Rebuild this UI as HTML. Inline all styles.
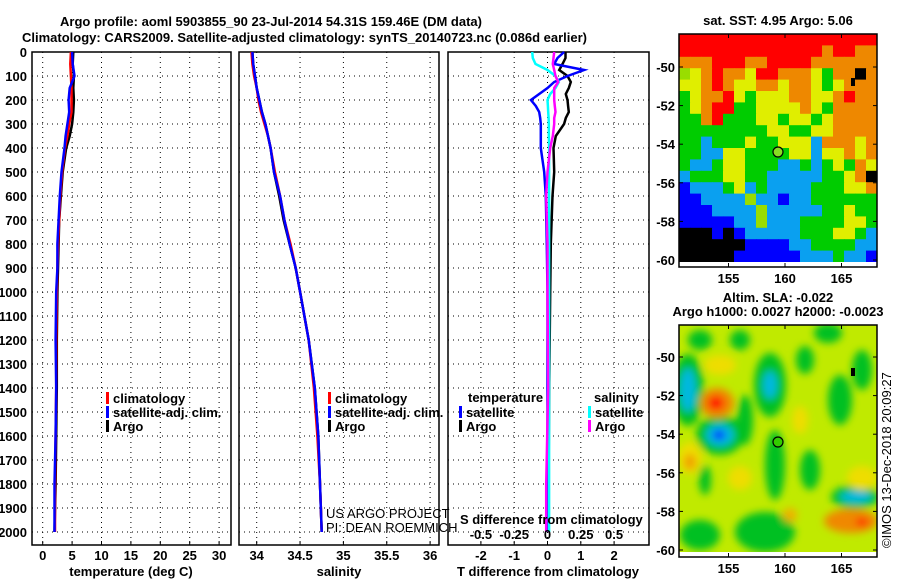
<!DOCTYPE html>
<html><head><meta charset="utf-8"><style>
html,body{margin:0;padding:0;background:#fff;}
svg{display:block;font-family:"Liberation Sans",sans-serif;}
.b{font-weight:bold;font-size:13px;}
</style></head><body>
<svg id="chart" width="900" height="580" viewBox="0 0 900 580" xmlns="http://www.w3.org/2000/svg">
<defs><filter id="blur" x="-20%" y="-20%" width="140%" height="140%"><feGaussianBlur stdDeviation="4"/></filter>
<clipPath id="clipTop"><rect x="679" y="34" width="198" height="228"/></clipPath>
<clipPath id="clipBot"><rect x="679" y="325" width="198" height="227"/></clipPath></defs>
<text class="b" x="60" y="26" font-size="14">Argo profile: aoml 5903855_90 23-Jul-2014 54.31S 159.46E (DM data)</text>
<text class="b" x="22" y="42" font-size="14">Climatology: CARS2009. Satellite-adjusted climatology: synTS_20140723.nc (0.086d earlier)</text>
<g id="g1"></g>
<g id="g2"></g>
<g id="g3"></g>
<g id="m1"></g>
<g id="m2"></g>
<text transform="translate(891,548) rotate(-90)" font-size="13">©IMOS 13-Dec-2018 20:09:27</text>
</svg>
<script>
const depths=[0,50,100,150,200,250,300,350,400,500,600,700,800,900,1000,1200,1400,1600,1800,2000];
const tempArgo=[5.2,5.1,5.3,5.2,5.3,5.2,5.0,4.6,4.0,3.4,3.1,2.8,2.7,2.6,2.5,2.4,2.4,2.3,2.2,2.0];
const tempClim=[4.8,4.7,4.8,4.9,4.9,4.9,4.5,4.2,3.8,3.3,3.0,2.8,2.6,2.5,2.4,2.3,2.3,2.2,2.1,2.1];
const tempSat=[5.0,5.1,5.4,4.6,4.4,4.5,4.2,3.9,3.7,3.2,2.9,2.7,2.5,2.5,2.3,2.2,2.3,2.2,2.0,2.0];
const salArgo=[33.95,33.96,33.98,34.0,34.03,34.06,34.1,34.13,34.16,34.2,34.26,34.31,34.38,34.45,34.5,34.6,34.67,34.71,34.73,34.75];
const salClim=[33.94,33.95,33.97,34.0,34.02,34.05,34.09,34.13,34.16,34.21,34.27,34.32,34.39,34.45,34.5,34.6,34.66,34.7,34.73,34.75];
const salSat=[33.95,33.96,33.98,34.0,34.03,34.06,34.1,34.13,34.16,34.2,34.27,34.32,34.38,34.45,34.5,34.6,34.67,34.71,34.73,34.75];
const dDepths=[0,25,50,75,100,125,150,175,200,225,250,275,300,350,400,500,600,800,1000,1400,1800,2000];
const tdArgo=[0.54,0.54,0.45,0.35,0.6,0.7,0.64,0.55,0.6,0.62,0.64,0.55,0.5,0.25,0.18,0.2,0.15,0.1,0.08,0.05,0.03,0.03];
const tdSat=[0.5,0.3,0.2,1.1,0.6,0.2,0.0,-0.25,-0.5,-0.35,-0.25,-0.22,-0.2,-0.2,-0.2,-0.1,-0.05,-0.02,0,0,0,0];
const sdSat=[-0.115,-0.11,-0.09,0,0.06,0.085,0.06,0.02,0,0.003,0.005,0.008,0.01,0.01,0.012,0.012,0.012,0.012,0.012,0.012,0.012,0.012];
const sdArgo=[0.05,0.045,0.04,0.05,0.06,0.08,0.05,0.05,0.05,0.055,0.06,0.05,0.05,0.04,0.02,0.0,-0.01,0,0,0.005,-0.01,-0.01];
const depthTicks=[0,100,200,300,400,500,600,700,800,900,1000,1100,1200,1300,1400,1500,1600,1700,1800,1900,2000];
const tempTicks=[0,5,10,15,20,25,30];
const salTicks=[34,34.5,35,35.5,36];
const salTickLabels=["34","34.5","35","35.5","36"];
const tdTicks=[-2,-1,0,1,2];
const sdTicks=[-0.5,-0.25,0,0.25,0.5];
const sdTickLabels=["-0.5","-0.25","0","0.25","0.5"];
const lonTicks=[155,160,165];
const latTicks=[-50,-52,-54,-56,-58,-60];

const NS='http://www.w3.org/2000/svg';
function mk(parent,tag,attrs,txt){const e=document.createElementNS(NS,tag);for(const k in attrs)e.setAttribute(k,attrs[k]);if(txt!==undefined)e.textContent=txt;parent.appendChild(e);return e;}
const TOP=52,BOT=545;
const yD=d=>TOP+d*0.24;
const xT=t=>42.7+t*5.88;
const xS=s=>256.7+(s-34)*86.7;
const xTD=t=>547.5+t*33.3;
const xSD=s=>547.5+s*133.2;

function panel(g,x0,x1,xTicks,xf,labels,withDepth){
  for(const d of depthTicks){const l=mk(g,'line',{x1:x0,x2:x1,y1:yD(d),y2:yD(d),stroke:'#000','stroke-dasharray':'1,4','stroke-width':1});
    
    if(withDepth){const t=mk(g,'text',{x:x0-5,y:yD(d)+5,'text-anchor':'end',class:'b'},String(d));
      }}
  xTicks.forEach((v,i)=>{const x=xf(v);const l=mk(g,'line',{x1:x,x2:x,y1:TOP,y2:BOT,stroke:'#000','stroke-dasharray':'1,4'});
    
    mk(g,'line',{x1:x,x2:x,y1:BOT,y2:BOT-4,stroke:'#000'});
    if(labels){const t=mk(g,'text',{x:x,y:560,'text-anchor':'middle',class:'b'},labels[i]);
      }});
  const r=mk(g,'rect',{x:x0,y:TOP,width:x1-x0,height:BOT-TOP,fill:'none',stroke:'#000','stroke-width':1.5});
  
}
function line(g,xs,ds,xf,color,name,w){
  const pts=xs.map((v,i)=>xf(v).toFixed(1)+','+yD(ds[i]).toFixed(1)).join(' ');
  const p=mk(g,'polyline',{points:pts,fill:'none',stroke:color,'stroke-width':w||2.5});
  
}
function legend(g,x,y,color,label){
  mk(g,'rect',{x:x,y:y-11,width:3,height:12,fill:color});
  const t=mk(g,'text',{x:x+7,y:y,class:'b'},label);
  
}
const g1=document.getElementById('g1'),g2=document.getElementById('g2'),g3=document.getElementById('g3');
panel(g1,32,231,tempTicks,xT,tempTicks.map(String),true);
line(g1,tempArgo,depths,xT,'#000','temp-argo-line');
line(g1,tempClim,depths,xT,'#f00','temp-clim-line');
line(g1,tempSat,depths,xT,'#00f','temp-sat-line');
legend(g1,106,403,'#f00','climatology');legend(g1,106,417,'#00f','satellite-adj. clim.');legend(g1,106,431,'#000','Argo');
mk(g1,'text',{x:131,y:576,'text-anchor':'middle',class:'b'},'temperature (deg C)');

panel(g2,239,439,salTicks,xS,salTickLabels,false);
line(g2,salArgo,depths,xS,'#000','sal-argo-line');
line(g2,salClim,depths,xS,'#f00','sal-clim-line');
line(g2,salSat,depths,xS,'#00f','sal-sat-line');
legend(g2,328,403,'#f00','climatology');legend(g2,328,417,'#00f','satellite-adj. clim.');legend(g2,328,431,'#000','Argo');
mk(g2,'text',{x:326,y:518,'font-size':13},'US ARGO PROJECT');
mk(g2,'text',{x:326,y:532,'font-size':13},'PI: DEAN ROEMMICH');
mk(g2,'text',{x:339,y:576,'text-anchor':'middle',class:'b'},'salinity');

panel(g3,448,649,tdTicks,xTD,tdTicks.map(String),false);
line(g3,tdArgo,dDepths,xTD,'#000','tdiff-argo-line');
line(g3,tdSat,dDepths,xTD,'#00f','tdiff-sat-line');
line(g3,sdSat,dDepths,xSD,'#0ff','sdiff-sat-line');
line(g3,sdArgo,dDepths,xSD,'#f0f','sdiff-argo-line');
mk(g3,'text',{x:468,y:402,class:'b'},'temperature');
mk(g3,'text',{x:594,y:402,class:'b'},'salinity');
legend(g3,459,417,'#00f','satellite');legend(g3,459,431,'#000','Argo');
legend(g3,588,417,'#0ff','satellite');legend(g3,588,431,'#f0f','Argo');
mk(g3,'text',{x:460,y:524,class:'b'},'S difference from climatology');
sdTicks.forEach((v,i)=>{const t=mk(g3,'text',{x:xSD(v),y:539,'text-anchor':'middle',class:'b'},sdTickLabels[i]);
  });
mk(g3,'text',{x:548,y:576,'text-anchor':'middle',class:'b'},'T difference from climatology');

// maps
const COL={R:'#ff0000',O:'#ee8800',Y:'#e0ee00',L:'#99dd00',G:'#00cc00',C:'#0aa0f0',B:'#0000ff',K:'#000000'};
const sstRows=["RRRRRRRRRRRRRRRRRR","RRRRRRRRRRRRRORROO","OOORRROORRRROOOOOO","LYOROOYRROOOYGOOKO","YYOROYYOOYOOYGYOOO","GYOORYGYYYOOYYOROO","GYORRGGYYYYOYGOOOO","GGORGGGYYGYYGYOOOO","GGGGGGGGYYGGYYOOOO","GGCGGGYGGYYYCOOOYO","GGCCYYGGGGYYCYYOYO","GCCGYYGGGCCGCGYGOY","CGGGYYGGCCCCCGGYOK","BCCCGYCGCCCCGGGYYO","BBCCCCLCCBCCGGGGGG","BBBCCCCLCCCCCGGYGG","BBBBBCCLCCCGGGGYYG","KKKBKBCCCCCGGGYYGC","KKKKKKBBBBCCGGGGCC","KKKKKBBBBBBCCCGCCB"];
const m1=document.getElementById('m1'),m2=document.getElementById('m2');
const lonX=l=>785+(l-160)*11.3;
function mapFrame(g,top,bot,latY){
  latTicks.forEach(v=>{const y=latY(v);mk(g,'line',{x1:679,x2:683,y1:y,y2:y,stroke:'#000'});mk(g,'line',{x1:873,x2:877,y1:y,y2:y,stroke:'#000'});
    const t=mk(g,'text',{x:675,y:y+5,'text-anchor':'end',class:'b'},String(v));});
  lonTicks.forEach(v=>{const x=lonX(v);mk(g,'line',{x1:x,x2:x,y1:bot,y2:bot-4,stroke:'#000'});mk(g,'line',{x1:x,x2:x,y1:top,y2:top+4,stroke:'#000'});
    const t=mk(g,'text',{x:x,y:bot+16,'text-anchor':'middle',class:'b'},String(v));});
  const r=mk(g,'rect',{x:679,y:top,width:198,height:bot-top,fill:'none',stroke:'#000','stroke-width':1.5});
  
}
const cg=mk(m1,'g',{'clip-path':'url(#clipTop)'});
const cw=198/18,ch=228/20;
sstRows.forEach((row,r)=>{for(let c=0;c<row.length;c++){mk(cg,'rect',{x:(679+c*cw).toFixed(2),y:(34+r*ch).toFixed(2),width:(cw+0.5).toFixed(2),height:(ch+0.5).toFixed(2),fill:COL[row[c]]});}});
mk(m1,'circle',{cx:778,cy:152,r:5,fill:'#88dd22',stroke:'#000','stroke-width':1.2});
mk(m1,'rect',{x:851,y:78,width:4,height:8,fill:'#000'});
mapFrame(m1,34,267,v=>67+(v+50)*-19.3);
mk(m1,'text',{x:778,y:25,'text-anchor':'middle',class:'b'},'sat. SST: 4.95 Argo: 5.06');

const bg=mk(m2,'g',{'clip-path':'url(#clipBot)'});
mk(bg,'rect',{x:679,y:325,width:198,height:227,fill:'#c0ea00'});
const bl=mk(bg,'g',{filter:'url(#blur)'});
const blobs=[["#00c020",688,390,16,36],["#00c020",720,435,24,20],["#00c020",770,385,16,32],["#00c020",828,333,14,10],["#00c020",745,420,8,25],["#00c020",775,465,10,35],["#00c020",810,470,10,20],["#00c020",805,360,9,14],["#00c020",840,400,12,25],["#00c020",862,370,10,20],["#00c020",705,480,6,15],["#00c020",700,535,20,15],["#00c020",765,532,30,20],["#00c020",740,340,10,10],["#00c020",700,340,12,10],["#00c020",855,497,24,12],
["#eedd00",690,458,12,16],["#f0a000",690,462,6,8],["#eedd00",740,478,12,12],["#f0b000",790,515,7,7],["#eedd00",862,478,15,12],["#eedd00",720,365,16,10],["#eedd00",800,420,8,14],
["#00b8e0",688,390,8,22],["#f08800",717,403,17,15],["#ff0000",716,403,8,7],["#00b8e0",720,435,14,11],["#0000ff",719,435,6,5],["#00b8e0",770,385,7,14],
["#f08800",851,521,27,12],["#ff0000",862,522,6,4],["#00b8e0",856,497,16,6]];
blobs.forEach(b=>{const e=mk(bl,'ellipse',{cx:b[1],cy:b[2],rx:b[3],ry:b[4],fill:b[0]});});
mk(m2,'circle',{cx:778,cy:442,r:5,fill:'#33cc00',stroke:'#000','stroke-width':1.2});
mk(m2,'rect',{x:851,y:368,width:4,height:8,fill:'#000'});
mapFrame(m2,325,557,v=>357+(v+50)*-19.3);
mk(m2,'text',{x:778,y:302,'text-anchor':'middle',class:'b'},'Altim. SLA: -0.022');
mk(m2,'text',{x:778,y:316,'text-anchor':'middle',class:'b'},'Argo h1000: 0.0027 h2000: -0.0023');
</script>
</body></html>
